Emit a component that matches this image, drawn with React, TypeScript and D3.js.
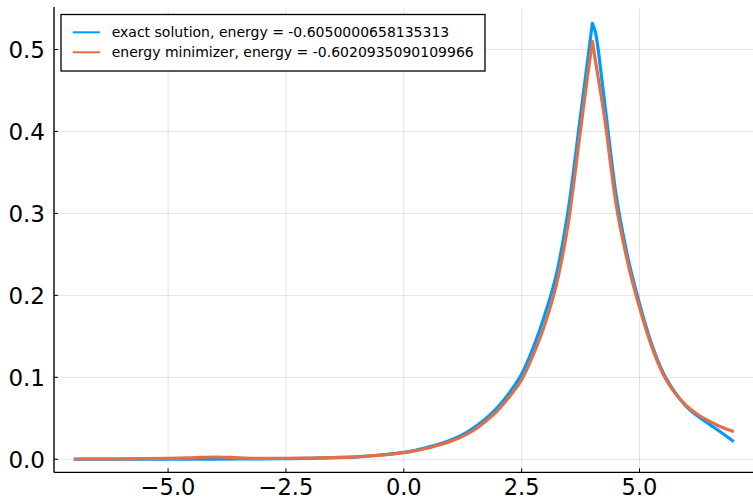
import React from "react";
import * as d3 from "d3";

// Sample positions shared by both density curves
const xs = [
  -7, -6.5, -6, -5.5, -5, -4.5, -4, -3.5, -3, -2.5, -2, -1.5, -1, -0.5,
  0, 0.25, 0.5, 0.75, 1, 1.25, 1.5, 1.75, 2, 2.25, 2.5, 2.75, 3, 3.25, 3.5, 3.75, 3.9,
  4, 4.06, 4.25, 4.5, 4.75, 5, 5.25, 5.5, 5.75, 6, 6.25, 6.5, 6.75, 7,
];

// Probability density of the exact ground state
const exactDensity = [
  0.0, 0.0, 0.0, 0.0001, 0.0001, 0.0002, 0.0002, 0.0003, 0.0005, 0.0008, 0.0012, 0.002, 0.003, 0.0052,
  0.0085, 0.011, 0.0145, 0.0185, 0.0235, 0.03, 0.039, 0.05, 0.064, 0.082, 0.104, 0.137, 0.178, 0.229, 0.309, 0.42, 0.487,
  0.532, 0.522, 0.44, 0.324, 0.247, 0.19, 0.142, 0.106, 0.082, 0.064, 0.052, 0.042, 0.032, 0.0215,
];

// Probability density returned by the energy minimizer
const minimizerDensity = [
  0.0003, 0.0004, 0.0005, 0.0007, 0.001, 0.0018, 0.0028, 0.0018, 0.001, 0.0011, 0.0015, 0.002, 0.003, 0.005,
  0.008, 0.0105, 0.0135, 0.0175, 0.022, 0.028, 0.036, 0.047, 0.06, 0.077, 0.097, 0.128, 0.166, 0.216, 0.292, 0.402, 0.468,
  0.51, 0.488, 0.42, 0.312, 0.24, 0.185, 0.139, 0.104, 0.081, 0.065, 0.054, 0.046, 0.039, 0.0337,
];

const seriesLabels = [
  "exact solution, energy = -0.6050000658135313",
  "energy minimizer, energy = -0.6020935090109966",
];
const seriesColors = ["#009afa", "#e36f47"];

const xTicks = [-5, -2.5, 0, 2.5, 5];
const yTicks = [0, 0.1, 0.2, 0.3, 0.4, 0.5];

const W = 753;
const H = 498;
const plotLeft = 54;
const plotRight = 753.6;
const plotTop = 8.5;
const plotBottom = 472.4;

const FONT = "'DejaVu Sans', sans-serif";

function padded(ext: [number, number]): [number, number] {
  const p = (ext[1] - ext[0]) * 0.03;
  return [ext[0] - p, ext[1] + p];
}

const fmt = (v: number) => d3.format(".1f")(v).replace("-", "\u2212");

export default function App() {
  const xScale = d3.scaleLinear().domain(padded(d3.extent(xs) as [number, number])).range([plotLeft, plotRight]);
  const yMax = Math.max(d3.max(exactDensity)!, d3.max(minimizerDensity)!);
  const yScale = d3.scaleLinear().domain(padded([0, yMax + 0.002])).range([plotBottom, plotTop]);

  const line = d3
    .line<[number, number]>()
    .x((d) => xScale(d[0]))
    .y((d) => yScale(d[1]))
    .curve(d3.curveMonotoneX);

  // Each side of the peak is smoothed on its own so the cusp stays sharp
  const cuspPath = (ys: number[]) => {
    const pts = xs.map((x, i) => [x, ys[i]] as [number, number]);
    const k = d3.maxIndex(ys);
    const left = line(pts.slice(0, k + 1)) || "";
    const right = (line(pts.slice(k)) || "").replace(/^M/, "L");
    return left + right;
  };

  const series = [exactDensity, minimizerDensity];

  return (
    <div style={{ position: "fixed", left: 0, top: 0 }}>
      <svg width={W} height={H} style={{ display: "block", background: "#fff" }}>
        {/* grid */}
        {xTicks.map((t) => (
          <line key={"gx" + t} x1={xScale(t)} x2={xScale(t)} y1={plotTop} y2={plotBottom} stroke="#000" strokeOpacity={0.1} strokeWidth={1} />
        ))}
        {yTicks.map((t) => (
          <line key={"gy" + t} x1={plotLeft} x2={plotRight} y1={yScale(t)} y2={yScale(t)} stroke="#000" strokeOpacity={0.1} strokeWidth={1} />
        ))}

        {/* curves */}
        {series.map((s, i) => (
          <path key={"s" + i} d={cuspPath(s)} fill="none" stroke={seriesColors[i]} strokeWidth={3.2} strokeLinejoin="round" />
        ))}

        {/* axes */}
        <line x1={plotLeft} x2={plotLeft} y1={plotTop - 1.5} y2={plotBottom} stroke="#000" strokeWidth={1.4} />
        <line x1={plotLeft} x2={plotRight} y1={plotBottom} y2={plotBottom} stroke="#000" strokeWidth={1.4} />

        {xTicks.map((t) => (
          <g key={"tx" + t}>
            <line x1={xScale(t)} x2={xScale(t)} y1={plotBottom} y2={plotBottom - 4} stroke="#000" strokeWidth={1} />
            <text x={xScale(t)} y={495} textAnchor="middle" fontFamily={FONT} fontSize={22.5} fill="#000">
              {fmt(t)}
            </text>
          </g>
        ))}
        {yTicks.map((t) => (
          <g key={"ty" + t}>
            <line x1={plotLeft} x2={plotLeft + 4} y1={yScale(t)} y2={yScale(t)} stroke="#000" strokeWidth={1} />
            <text x={45} y={yScale(t)} dy="0.36em" textAnchor="end" fontFamily={FONT} fontSize={23} fill="#000">
              {fmt(t)}
            </text>
          </g>
        ))}

        {/* legend */}
        <rect x={61} y={14.5} width={424} height={56.5} fill="#fff" stroke="#000" strokeWidth={1.3} />
        {seriesLabels.map((lab, i) => (
          <g key={"lg" + i}>
            <line x1={72.7} x2={100} y1={32.3 + i * 20} y2={32.3 + i * 20} stroke={seriesColors[i]} strokeWidth={2} />
            <text x={111.7} y={32.3 + i * 20} dy="0.36em" fontFamily={FONT} fontSize={14} fill="#000">
              {lab}
            </text>
          </g>
        ))}
      </svg>
    </div>
  );
}
